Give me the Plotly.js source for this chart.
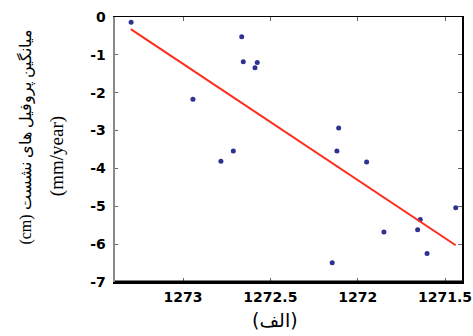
<!DOCTYPE html>
<html>
<head>
<meta charset="utf-8">
<script src="https://cdn.plot.ly/plotly-3.0.1.min.js"></script>
<style>
  html, body { margin: 0; padding: 0; background: #fff; }
  #chart { width: 473px; height: 336px; }
</style>
</head>
<body>
<div id="chart"></div>
<script>
// Survey profile positions (x) and mean subsidence rate (y)
const profilePos = [1273.297, 1272.664, 1272.655, 1272.588, 1272.575, 1272.943,
                    1272.783, 1272.712, 1272.109, 1272.119, 1271.949, 1271.439,
                    1271.642, 1271.657, 1271.850, 1271.603, 1272.146];
const subsidence = [-0.14, -0.52, -1.18, -1.34, -1.20, -2.17,
                    -3.81, -3.54, -2.93, -3.54, -3.83, -5.04,
                    -5.35, -5.62, -5.68, -6.25, -6.49];

// Fitted trend line end points
const trendX = [1273.299, 1271.439];
const trendY = [-0.32, -6.03];

// Tick labels
const xTickVals = [1273, 1272.5, 1272, 1271.5];
const xTickText = ['1273', '1272.5', '1272', '1271.5'];
const yTickVals = [0, -1, -2, -3, -4, -5, -6, -7];
const yTickText = ['0', '-1', '-2', '-3', '-4', '-5', '-6', '-7'];

const tickFont = { family: 'DejaVu Sans, Verdana, sans-serif', size: 14, color: '#000', weight: 'bold' };

const traces = [
  {
    x: profilePos, y: subsidence, type: 'scatter', mode: 'markers',
    marker: { color: '#2e3192', size: 5 },
    hoverinfo: 'skip'
  },
  {
    x: trendX, y: trendY, type: 'scatter', mode: 'lines',
    line: { color: '#ff2a1a', width: 2 },
    hoverinfo: 'skip'
  }
];

const layout = {
  width: 473, height: 336,
  margin: { l: 114, r: 11, t: 17, b: 54 },
  paper_bgcolor: '#fff', plot_bgcolor: '#fff',
  showlegend: false,
  xaxis: {
    range: [1273.395, 1271.403],
    tickvals: xTickVals, ticktext: xTickText,
    ticks: 'inside', ticklen: 4, tickwidth: 1, tickcolor: '#666',
    showline: true, linecolor: '#000', linewidth: 1.5, mirror: 'ticks',
    showgrid: false, zeroline: false,
    tickfont: tickFont, ticklabelstandoff: 2
  },
  yaxis: {
    range: [-7, 0],
    tickvals: yTickVals, ticktext: yTickText,
    ticks: 'inside', ticklen: 4, tickwidth: 1, tickcolor: '#666',
    showline: true, linecolor: '#000', linewidth: 1.5, mirror: 'ticks',
    showgrid: false, zeroline: false,
    tickfont: tickFont, ticklabelstandoff: 4
  },
  shapes: [
    // heavier bottom axis and grey left axis
    { type: 'line', xref: 'paper', yref: 'paper', x0: 0, x1: 1, y0: 0, y1: 0,
      line: { color: '#000', width: 3 } },
    { type: 'line', xref: 'paper', yref: 'paper', x0: 0, x1: 0, y0: 0, y1: 1,
      line: { color: '#8a8a8a', width: 2 } }
  ],
  annotations: [
    {
      text: '(الف)', xref: 'paper', yref: 'paper', x: 0.463, y: 0,
      yshift: -38, xanchor: 'center', yanchor: 'middle', showarrow: false,
      font: { family: 'DejaVu Sans, sans-serif', size: 19, color: '#000' }
    },
    {
      text: '(cm) میانگین پروفیل های نشست', xref: 'paper', yref: 'paper',
      x: 0, xshift: -88, y: 0.545, textangle: -90,
      xanchor: 'center', yanchor: 'middle', showarrow: false,
      font: { family: 'Liberation Serif, Times New Roman, serif', size: 16, color: '#000' }
    },
    {
      text: '(mm/year)', xref: 'paper', yref: 'paper',
      x: 0, xshift: -57, y: 0.475, textangle: -90,
      xanchor: 'center', yanchor: 'middle', showarrow: false,
      font: { family: 'Liberation Serif, Times New Roman, serif', size: 19, color: '#000' }
    }
  ]
};

Plotly.newPlot('chart', traces, layout, { displayModeBar: false, staticPlot: true });
</script>
</body>
</html>
